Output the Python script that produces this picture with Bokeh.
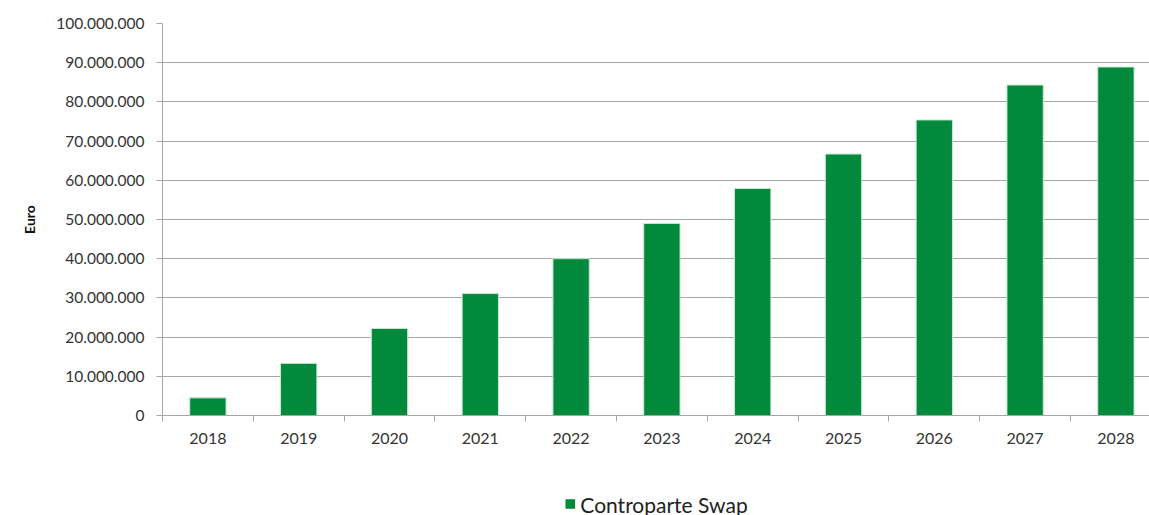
from bokeh.plotting import figure
from bokeh.layouts import column
from bokeh.models import ColumnDataSource, FixedTicker, Range1d, Legend, LegendItem
from bokeh.embed import file_html
from bokeh.resources import INLINE

years = ["2018", "2019", "2020", "2021", "2022", "2023", "2024", "2025", "2026", "2027", "2028"]
values = [4.5e6, 13.3e6, 22.2e6, 31.1e6, 40.0e6, 49.0e6, 57.9e6, 66.7e6, 75.4e6, 84.3e6, 88.9e6]
y_ticks = [0, 10e6, 20e6, 30e6, 40e6, 50e6, 60e6, 70e6, 80e6, 90e6, 100e6]
y_labels = ["0", "10.000.000", "20.000.000", "30.000.000", "40.000.000", "50.000.000",
            "60.000.000", "70.000.000", "80.000.000", "90.000.000", "100.000.000"]
series_name = "Controparte Swap"

GREEN = "#02893B"
GRID = "#A6A6A6"
FONT = "Lato"

xc = [i + 0.5 for i in range(len(years))]
src = ColumnDataSource(dict(x=xc, top=values))

p = figure(width=1149, height=470, output_backend="svg", toolbar_location=None,
           x_range=Range1d(0, 10.87), y_range=Range1d(0, 100e6))
p.min_border_left = 158
p.min_border_top = 23
p.min_border_bottom = 55
p.min_border_right = 0
p.outline_line_color = None
p.background_fill_color = "white"
p.border_fill_color = "white"

r = p.vbar(x="x", top="top", width=0.4, source=src, fill_color=GREEN,
           line_color="#C8E8D0", line_width=1)

# x axis
p.xaxis.ticker = FixedTicker(ticks=xc, minor_ticks=list(range(len(years) + 1)))
p.xaxis.major_label_overrides = {x: y for x, y in zip(xc, years)}
p.xaxis.major_tick_out = 0
p.xaxis.major_tick_in = 0
p.xaxis.minor_tick_out = 6
p.xaxis.minor_tick_in = 0
p.xaxis.minor_tick_line_color = GRID
p.xaxis.axis_line_color = GRID
p.xaxis.major_label_text_font = FONT
p.xaxis.major_label_text_font_size = "16px"
p.xaxis.major_label_text_color = "#333333"
p.xaxis.major_label_standoff = 11

# y axis
p.yaxis.ticker = FixedTicker(ticks=y_ticks, minor_ticks=[])
p.yaxis.major_label_overrides = {t: l for t, l in zip(y_ticks, y_labels)}
p.yaxis.major_tick_out = 6
p.yaxis.major_tick_in = 0
p.yaxis.major_tick_line_color = GRID
p.yaxis.axis_line_color = GRID
p.yaxis.major_label_text_font = FONT
p.yaxis.major_label_text_font_size = "15.5px"
p.yaxis.major_label_text_color = "#333333"
p.yaxis.major_label_standoff = 12
p.yaxis.axis_label = "Euro"
p.yaxis.axis_label_text_font = FONT
p.yaxis.axis_label_text_font_size = "14px"
p.yaxis.axis_label_text_font_style = "bold"
p.yaxis.axis_label_text_color = "#111111"
p.yaxis.axis_label_standoff = 15

p.xgrid.grid_line_color = None
p.ygrid.grid_line_color = GRID
p.ygrid.grid_line_width = 1

# legend strip below the chart
pl = figure(width=1149, height=45, output_backend="svg", toolbar_location=None,
            x_axis_location=None, y_axis_location=None,
            x_range=Range1d(0, 1), y_range=Range1d(0, 1))
pl.min_border_left = 162
pl.min_border_right = 0
pl.min_border_top = 22
pl.min_border_bottom = 0
pl.outline_line_color = None
pl.grid.visible = False
# swatch-only renderer kept outside the visible range
dummy = pl.vbar(x=[-5], top=[-5], bottom=[-6], width=0.4, fill_color=GREEN, line_color=None)

legend = Legend(items=[LegendItem(label=series_name, renderers=[dummy])],
                location="center", orientation="horizontal",
                border_line_color=None, background_fill_alpha=0,
                label_text_font=FONT, label_text_font_size="21px",
                label_text_color="#222222", glyph_width=12, glyph_height=12,
                label_standoff=5, padding=0, margin=0)
pl.add_layout(legend, "center")

layout = column(p, pl, spacing=0)
open("out.html", "w").write(file_html(layout, INLINE))
